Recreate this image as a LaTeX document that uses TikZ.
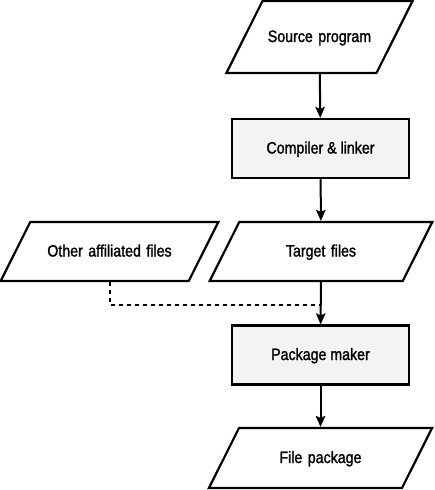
\documentclass[tikz,border=0pt]{standalone}
\usepackage{fontspec}
\setmainfont{Liberation Sans}[FakeStretch=0.86,FakeBold=1.5]
\usepackage{tikz}
\usetikzlibrary{arrows.meta,positioning,calc,shapes.geometric}
\definecolor{procgrey}{RGB}{243,243,243}
\tikzset{
  iobox/.style={trapezium,trapezium left angle=63.4,trapezium right angle=116.6,
    draw=black,line width=2.2pt,fill=white,align=center,
    font=\fontsize{16.5}{19}\selectfont,inner xsep=0pt,text height=12pt,text depth=2pt},
  procbox/.style={rectangle,draw=black,line width=2.2pt,fill=procgrey,
    minimum width=177pt,minimum height=59pt,font=\fontsize{16.5}{19}\selectfont,
    inner sep=0pt,text height=12pt,text depth=2pt},
  flow/.style={-{Stealth[length=11pt,width=9.5pt,inset=2pt]},line width=2pt,draw=black},
  dotflow/.style={line width=2pt,draw=black,dash pattern=on 4pt off 4pt}
}
\begin{document}
\begin{tikzpicture}[x=1pt,y=-1pt]
  \useasboundingbox (0,0) rectangle (435,490);
  % main column
  \node[iobox,text width=114pt,inner ysep=29pt] (source) at (319.5,37) {Source program};
  \node[procbox] (compiler) at (320.5,148.5) {Compiler \& linker};
  \node[iobox,text width=163.5pt,inner ysep=22.5pt] (target) at (321,251.5) {Target files};
  \node[procbox] (package) at (320.5,355) {Package maker};
  \node[iobox,text width=163pt,inner ysep=23pt] (filepkg) at (320.5,458) {File package};
  % side input
  \node[iobox,text width=158.5pt,inner ysep=22.5pt] (other) at (109.5,251.5) {Other affiliated files};
  \coordinate (merge) at ($(target.south)!0.53!(package.north)$);
  \draw[flow] (source) -- (compiler);
  \draw[flow] (compiler) -- (target);
  \draw[flow] (target) -- (package);
  \draw[flow] (package) -- (filepkg);
  \draw[dotflow] (other.south) |- (merge);
\end{tikzpicture}
\end{document}
